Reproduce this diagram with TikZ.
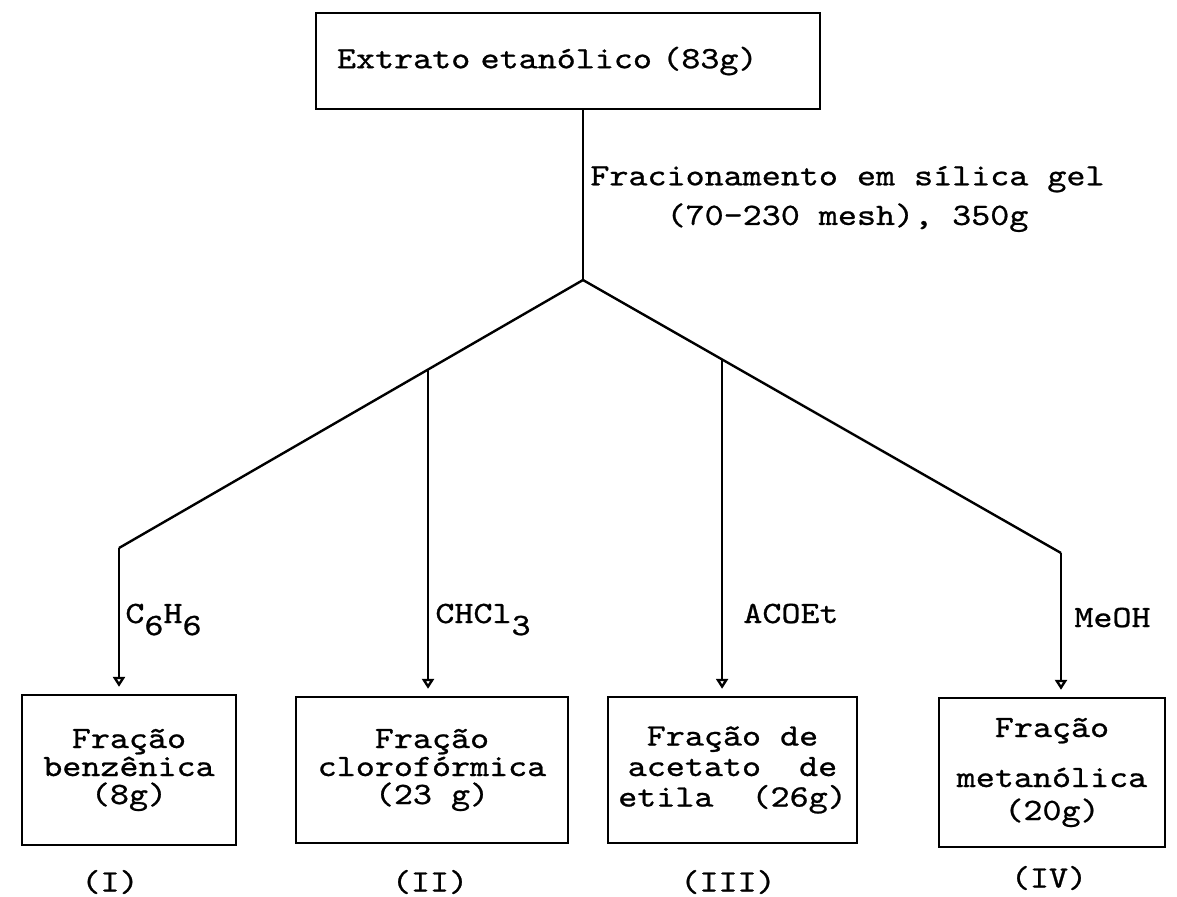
\documentclass[tikz,border=0pt]{standalone}
\usepackage{fontspec}
\setmonofont{lmmono10-regular.otf}[FakeStretch=1.17, FakeBold=0.8]
\usetikzlibrary{arrows.meta}

\begin{document}
\begin{tikzpicture}[x=0.5pt, y=-0.5pt,
    font=\ttfamily\fontsize{15.5}{14}\selectfont,
    caixa/.style={draw, line width=1.2pt, align=center, inner sep=0pt},
    linha/.style={line width=1.2pt},
    seta/.style={line width=1.2pt, -{Triangle[open, length=5pt, width=6pt]}, shorten >=3.5pt},
    rotulo/.style={anchor=base west, inner sep=0pt}]

    \useasboundingbox (0,0) rectangle (1177,896);

    \node [caixa, minimum width=252pt, minimum height=48pt, text width=231pt, align=left] (extrato) at (568,61) {Extrato etanólico (83g)};

    \coordinate (ramo) at (583,280);
    \coordinate (canto1) at (119,548);
    \coordinate (canto4) at (1061,553);

    \draw [linha] (ramo |- extrato.south) -- (ramo);
    \node [anchor=west, align=center, inner sep=0pt] (fracionamento) at (590,199) {Fracionamento em sílica gel\\[4.5pt](70-230 mesh), 350g};

    \draw [linha] (ramo) -- (canto1);
    \draw [linha] (ramo) -- (canto4);
    \path (ramo) -- (canto1) coordinate [pos=0.334] (bifurca2);
    \path (ramo) -- (canto4) coordinate [pos=0.291] (bifurca3);

    % frações
    \node [caixa, minimum width=107pt, minimum height=75pt] (fracao1) at (129,770) {Fração\\benzênica\\(8g)};
    \node [caixa, minimum width=136pt, minimum height=73pt] (fracao2) at (432,770) {Fração\\clorofórmica\\(23 g)};
    \node [caixa, minimum width=124.5pt, minimum height=73pt] (fracao3) at (732.5,770) {Fração de\\[1.25pt]acetato~~de\\[1.25pt]etila~~(26g)};
    \node [caixa, minimum width=113pt, minimum height=74.5pt] (fracao4) at (1052,772.5) {Fração\\[11pt]metanólica\\[2.5pt](20g)};

    \draw [seta] (canto1) -- (canto1 |- fracao1.north);
    \draw [seta] (bifurca2) -- (bifurca2 |- fracao2.north);
    \draw [seta] (bifurca3) -- (bifurca3 |- fracao3.north);
    \draw [seta] (canto4) -- (canto4 |- fracao4.north);

    \node [rotulo] (benzeno) at (125,623) {C\raisebox{-0.9ex}{6}H\raisebox{-0.9ex}{6}};
    \node [rotulo] (cloroformio) at (435,623) {CHCl\raisebox{-0.9ex}{3}};
    \node [rotulo] (acetato) at (743,623) {ACOEt};
    \node [rotulo] (metanol) at (1074,627) {MeOH};

    \node (num1) at (110,882) {(I)};
    \node (num2) at (430,882) {(II)};
    \node (num3) at (728,882) {(III)};
    \node (num4) at (1049,878) {(IV)};

\end{tikzpicture}
\end{document}
